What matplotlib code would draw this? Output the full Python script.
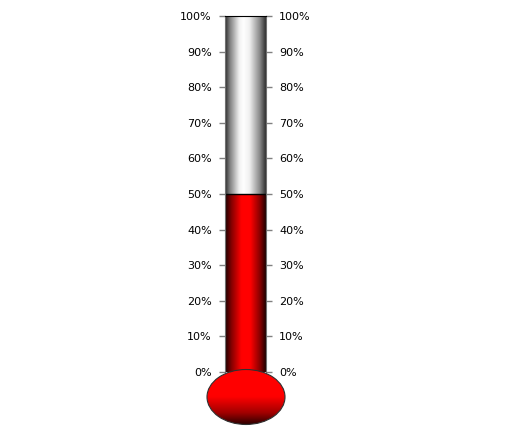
import numpy as np
import matplotlib
matplotlib.use('Agg')
import matplotlib.pyplot as plt
from matplotlib.colors import LinearSegmentedColormap
from matplotlib.patches import Ellipse

# data
value = 50
tick_values = [0, 10, 20, 30, 40, 50, 60, 70, 80, 90, 100]
tick_labels = ['%d%%' % t for t in tick_values]

W, H = 509, 442


def main():
    fig = plt.figure(figsize=(W / 100, H / 100), dpi=100)
    fig.patch.set_facecolor('white')

    # tube axes (pixel box 225..266 x 16..372)
    ax = fig.add_axes([225 / W, (H - 372) / H, 41 / W, 356 / H])
    ax.set_facecolor('white')

    glass = LinearSegmentedColormap.from_list('glass', [
        (0.0, '#2a2a2a'), (0.12, '#808080'), (0.35, '#f2f2f2'), (0.45, '#ffffff'),
        (0.6, '#f0f0f0'), (0.85, '#8a8a8a'), (1.0, '#303030')])
    mercury = LinearSegmentedColormap.from_list('mercury', [
        (0.0, '#180000'), (0.15, '#800000'), (0.4, '#ff0000'),
        (0.62, '#ff0000'), (0.87, '#800000'), (1.0, '#200000')])
    grad = np.linspace(0, 1, 256).reshape(1, -1)

    ax.imshow(grad, cmap=glass, extent=[0, 1, value, 100], aspect='auto',
              interpolation='bicubic')
    ax.imshow(grad, cmap=mercury, extent=[0, 1, 0, value], aspect='auto',
              interpolation='bicubic')
    ax.axhline(value, color='black', lw=1)

    ax.set_xlim(0, 1)
    ax.set_ylim(0, 100)
    ax.set_xticks([])
    ax.set_yticks(tick_values)
    ax.set_yticklabels(tick_labels)
    ax.tick_params(axis='y', left=True, right=True, labelleft=True, labelright=True,
                   length=4.5, width=1, color='#808080', pad=5, labelsize=8,
                   labelcolor='black')
    for side in ['left', 'right']:
        ax.spines[side].set_color('#707070')
    ax.spines['top'].set_color('black')
    ax.spines['bottom'].set_visible(False)

    # bulb axes, pixel coordinates
    bx = fig.add_axes([200 / W, (H - 430) / H, 92 / W, 66 / H])
    bx.axis('off')
    bulb = Ellipse((246, 397), 78, 55, facecolor='none', edgecolor='#303030', lw=0.8)
    bx.add_patch(bulb)
    bulb_cmap = LinearSegmentedColormap.from_list('bulb', [
        (0.0, '#ff0000'), (0.5, '#ff0000'), (0.8, '#a00000'), (1.0, '#300000')])
    vgrad = np.linspace(0, 1, 256).reshape(-1, 1)
    im = bx.imshow(vgrad, cmap=bulb_cmap, extent=[207, 285, 424.5, 369.5],
                   aspect='auto', interpolation='bicubic', origin='upper')
    im.set_clip_path(bulb)
    bx.set_xlim(200, 292)
    bx.set_ylim(430, 364)

    plt.savefig('out.png', dpi=100)
    plt.close()


if __name__ == '__main__': main()
